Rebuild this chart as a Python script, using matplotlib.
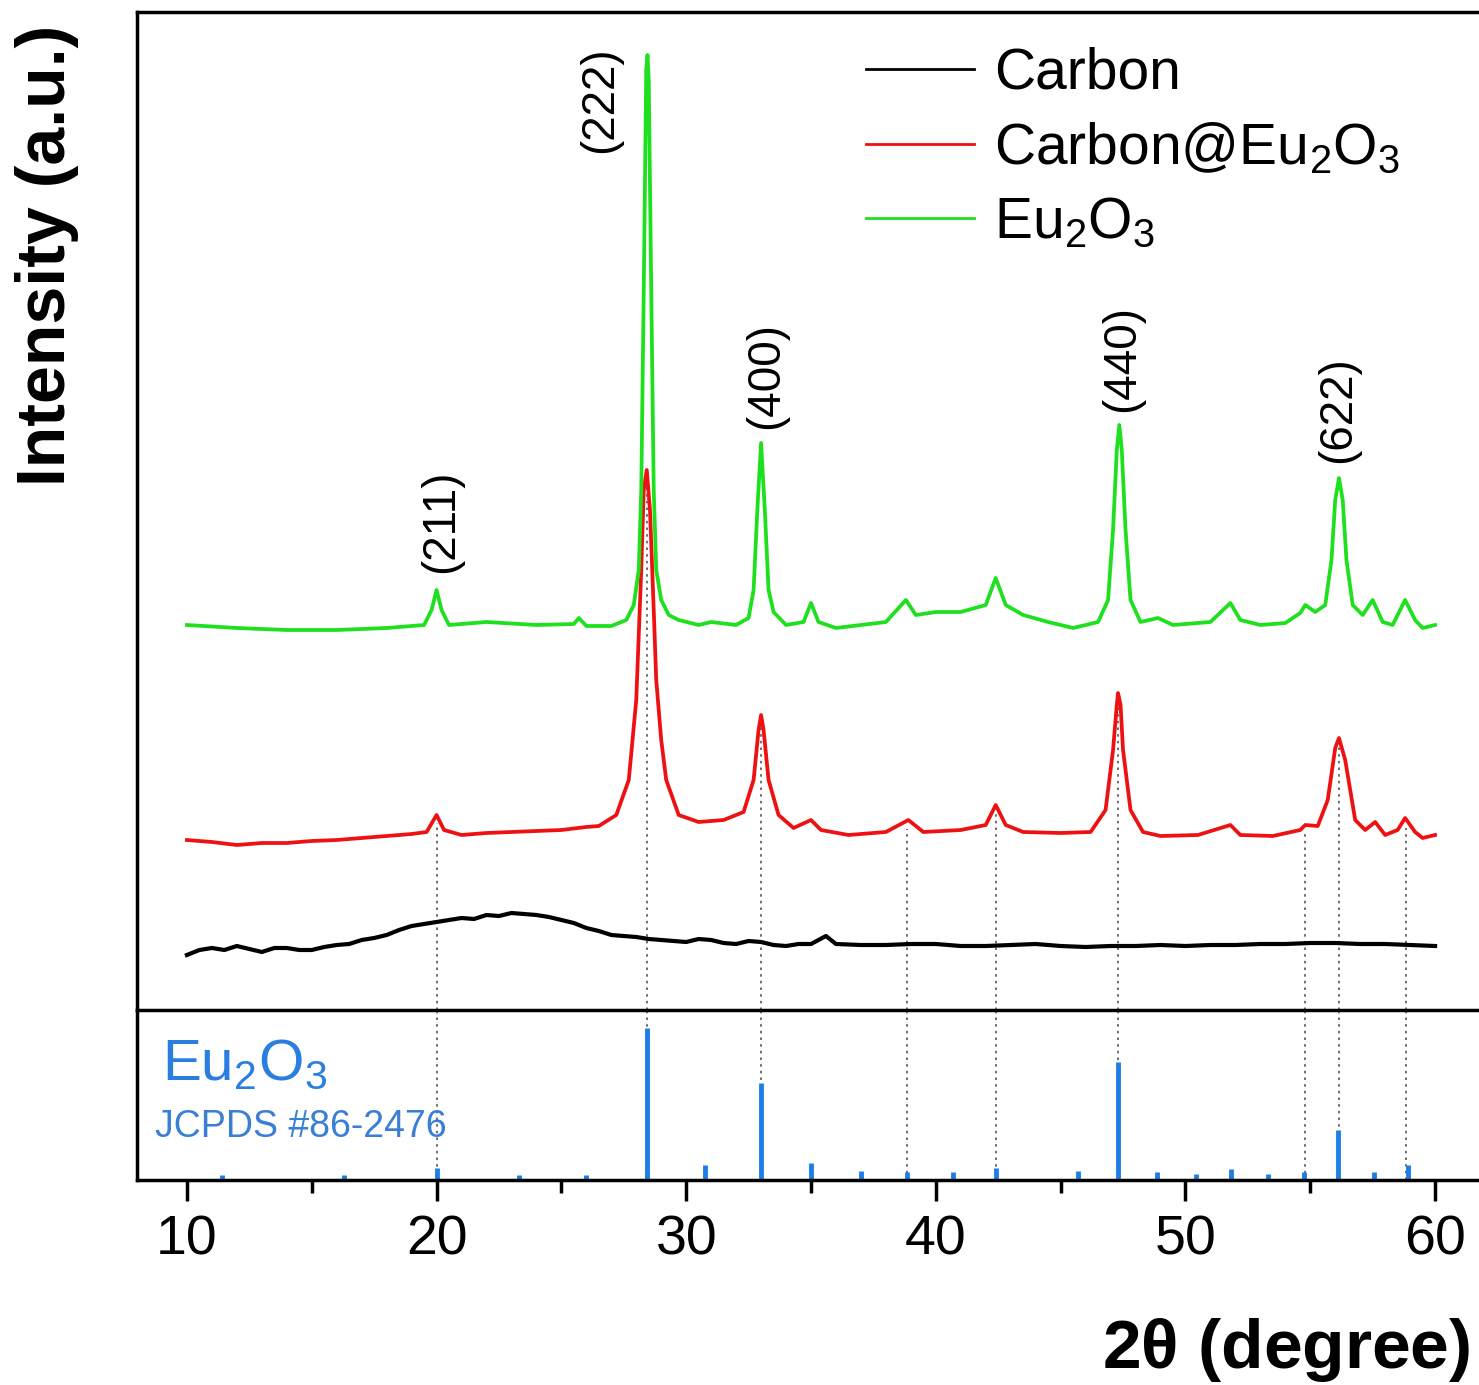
import numpy as np
import matplotlib
matplotlib.use('Agg')
import matplotlib.pyplot as plt
from matplotlib.ticker import MultipleLocator

plt.rcParams['font.family'] = ['Liberation Sans', 'DejaVu Sans']
plt.rcParams['mathtext.fontset'] = 'custom'
plt.rcParams['mathtext.rm'] = 'Liberation Sans'
plt.rcParams['mathtext.it'] = 'Liberation Sans'

# ---------------------------------------------------------------------------
# Data (2theta in degree, intensity in a.u., stacked)
# ---------------------------------------------------------------------------
eu2o3_x = [10, 12, 14, 16, 18, 19.5, 19.8, 20.0, 20.2, 20.5, 22, 24, 25.5, 25.7, 26,
           27, 27.6, 27.9, 28.1, 28.2, 28.3, 28.4, 28.45, 28.5, 28.6, 28.7, 28.8, 29.0,
           29.3, 29.7, 30.5, 31, 32, 32.5, 32.7, 32.85, 33.0, 33.15, 33.3, 33.5, 34,
           34.7, 35.0, 35.3, 36, 37, 38, 38.8, 39.2, 40, 41, 42, 42.4, 42.8, 43.5,
           44.5, 45.5, 46.5, 46.9, 47.1, 47.25, 47.35, 47.45, 47.6, 47.8, 48.2, 48.9,
           49.5, 51, 51.8, 52.2, 53, 54, 54.6, 54.8, 55.2, 55.6, 55.85, 56.0, 56.15,
           56.3, 56.45, 56.7, 57.1, 57.5, 57.9, 58.3, 58.8, 59.2, 59.5, 60]
eu2o3_y = [385, 382, 380, 380, 382, 385, 400, 420, 400, 385, 388, 385, 386, 392, 384,
           384, 390, 405, 440, 520, 720, 940, 955, 930, 720, 520, 440, 410,
           395, 390, 385, 388, 385, 392, 420, 500, 567, 500, 420, 398, 385,
           388, 407, 388, 382, 385, 388, 410, 395, 398, 398, 405, 432, 405, 395,
           388, 382, 388, 410, 480, 560, 585, 560, 480, 410, 388, 392,
           385, 388, 407, 390, 385, 387, 397, 405, 398, 405, 450, 510, 532,
           510, 450, 405, 395, 410, 388, 385, 410, 390, 382, 385]

c_eu2o3_x = [10, 11, 12, 13, 14, 15, 16, 17, 18, 19, 19.6, 20.0, 20.3, 21, 22, 23, 24,
             25, 26, 26.5, 27.2, 27.7, 28.0, 28.2, 28.3, 28.42, 28.55, 28.7, 28.8, 29.0,
             29.2, 29.7, 30.5, 31.5, 32.3, 32.7, 32.9, 33.0, 33.1, 33.3, 33.7, 34.3,
             35.0, 35.4, 36.5, 38, 38.9, 39.5, 41, 42.0, 42.4, 42.8, 43.5, 45, 46.2,
             46.8, 47.1, 47.25, 47.3, 47.4, 47.5, 47.8, 48.3, 49, 50.5, 51.8, 52.2,
             53.5, 54.6, 54.8, 55.3, 55.7, 56.0, 56.15, 56.4, 56.8, 57.2, 57.6, 58.0,
             58.5, 58.8, 59.2, 59.5, 60]
c_eu2o3_y = [170, 168, 165, 167, 167, 169, 170, 172, 174, 176, 178, 195, 180, 175, 177,
             178, 179, 180, 183, 184, 195, 230, 310, 440, 520, 540, 500, 400, 330,
             270, 230, 195, 188, 190, 198, 230, 280, 295, 280, 230, 195, 182,
             190, 180, 175, 178, 190, 178, 180, 185, 205, 185, 178, 177, 178,
             200, 260, 305, 317, 305, 260, 200, 178, 174, 175, 185, 175,
             174, 180, 185, 184, 210, 262, 272, 250, 190, 180, 188, 175,
             180, 192, 178, 172, 175]

carbon_x = [10, 10.5, 11, 11.5, 12, 12.5, 13, 13.5, 14, 14.5, 15, 15.5, 16, 16.5, 17,
            17.5, 18, 18.5, 19, 19.5, 20, 20.5, 21, 21.5, 22, 22.5, 23, 23.5, 24, 24.5,
            25, 25.5, 26, 26.5, 27, 27.5, 28, 28.5, 29, 29.5, 30, 30.5, 31, 31.5, 32,
            32.5, 33, 33.5, 34, 34.5, 35, 35.6, 36, 37, 38, 39, 40, 41, 42, 43, 44, 45,
            46, 47, 48, 49, 50, 51, 52, 53, 54, 55, 56, 57, 58, 59, 60]
carbon_y = [55, 60, 62, 60, 64, 61, 58, 62, 62, 60, 60, 63, 65, 66, 70,
            72, 75, 80, 84, 86, 88, 90, 92, 91, 95, 94, 97, 96, 95, 93,
            90, 87, 82, 79, 75, 74, 73, 71, 70, 69, 68, 71, 70, 67, 66,
            69, 68, 65, 64, 66, 66, 74, 66, 65, 65, 66, 66, 64, 64, 65, 66, 64,
            63, 64, 64, 65, 64, 65, 65, 66, 66, 67, 67, 66, 66, 65, 64]

# JCPDS #86-2476 reference sticks (relative intensity)
ref_pos = [11.4, 16.3, 20.0, 23.3, 26.0, 28.42, 30.77, 32.98, 34.98, 37.0, 38.83,
           40.69, 42.4, 45.7, 47.3, 48.85, 50.42, 51.82, 53.3, 54.75, 56.12, 57.55, 58.9]
ref_int = [3, 3, 8, 3, 3, 100, 10, 64, 11, 6, 5, 5, 8, 6, 78, 5, 4, 7, 4, 5, 33, 5, 10]

# dotted guide lines
guide_pos = [20.0, 28.42, 32.98, 38.85, 42.4, 47.3, 54.8, 56.15, 58.85]

# (hkl) labels: text, x, y
hkl_text = ['(211)', '(222)', '(400)', '(440)', '(622)']
hkl_x = [20.2, 26.55, 33.2, 47.45, 56.1]
hkl_y = [489, 910, 635, 652, 600]

# ---------------------------------------------------------------------------
fig = plt.figure(figsize=(14.79, 13.85), dpi=100)
left = 137 / 1479
width = (1485 - 137) / 1479
ax = fig.add_axes([left, 1 - 1010 / 1385, width, 998 / 1385])
axr = fig.add_axes([left, 1 - 1180 / 1385, width, 170 / 1385], sharex=ax)

ax.plot(carbon_x, carbon_y, color='black', lw=3.0, label='Carbon')
ax.plot(c_eu2o3_x, c_eu2o3_y, color='#ee1111', lw=2.7, label=r'Carbon@Eu$_2$O$_3$')
ax.plot(eu2o3_x, eu2o3_y, color='#1ee01e', lw=2.7, label=r'Eu$_2$O$_3$')

ax.set_xlim(8, 62)
ax.set_ylim(0, 998)
axr.set_ylim(0, 112)

red_at = np.interp(guide_pos, c_eu2o3_x, c_eu2o3_y)
for gx, gy in zip(guide_pos, red_at):
    ax.plot([gx, gx], [0, gy - 8], color='#555555', lw=1.2, ls=(0, (1.5, 2.5)), zorder=0)
    axr.axvline(gx, color='#555555', lw=1.2, ls=(0, (1.5, 2.5)), zorder=0)

axr.vlines(ref_pos, 0, ref_int, color='#1e7ee8', lw=3.5)

for t, x, y in zip(hkl_text, hkl_x, hkl_y):
    ax.text(x, y, t, rotation=90, ha='center', va='center', fontsize=33)

leg = ax.legend(loc='upper left', bbox_to_anchor=(686 / 1348, 1.008), frameon=False,
                fontsize=41, handlelength=1.9, handletextpad=0.35, labelspacing=0.36,
                borderaxespad=0.35)
for line in leg.get_lines():
    line.set_linewidth(2.0)

fig.text(162 / 1479, 1 - 1080 / 1385, r'Eu$_2$O$_3$', fontsize=42, color='#2a7ee0',
         ha='left', va='baseline')
fig.text(155 / 1479, 1 - 1127 / 1385, 'JCPDS #86-2476', fontsize=27, color='#3a7fd6',
         ha='left', va='center')

# axes styling
for a in (ax, axr):
    for s in a.spines.values():
        s.set_linewidth(2.5)
    a.set_yticks([])
ax.spines['bottom'].set_visible(False)
ax.tick_params(axis='x', which='both', bottom=False, labelbottom=False)

axr.xaxis.set_major_locator(MultipleLocator(10))
axr.xaxis.set_minor_locator(MultipleLocator(5))
axr.tick_params(axis='x', which='major', direction='out', length=15, width=2.5,
                labelsize=40, pad=10)
axr.tick_params(axis='x', which='minor', direction='out', length=9, width=2.5)

fig.text(1470 / 1479, 1 - 1350 / 1385, r'2$\mathregular{\theta}$ (degree)', fontsize=50,
         fontweight='bold', ha='right', va='center')
fig.text(47 / 1479, 1 - 255 / 1385, 'Intensity (a.u.)', fontsize=49, fontweight='bold',
         rotation=90, ha='center', va='center')

fig.savefig('out.png', dpi=100)
